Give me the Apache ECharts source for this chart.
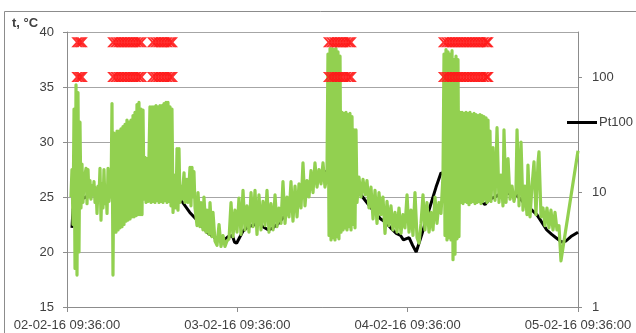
<!DOCTYPE html>
<html>
<head>
<meta charset="utf-8">
<script src="https://cdn.jsdelivr.net/npm/echarts@6/dist/echarts.min.js"></script>
<style>
  html, body { margin: 0; padding: 0; background: #fff; }
  #chart { width: 636px; height: 333px; }
</style>
</head>
<body>
<div id="chart"></div>
<script>
// Logging window: 02-02-16 09:36:00 + 72 h. Times are hours from the start.
const START_UTC = Date.UTC(2016, 1, 2, 9, 36, 0);
const dayTicks = [0, 24, 48, 72];

// Pt100 reference probe, °C
const ptHours = [0.70, 0.85, 1.3, 2.0, 3.0, 3.5, 4.5, 5.3, 5.8, 7.0, 8.5, 10.0, 11.0, 12.0, 13.0, 14.0, 14.9,
  16.3, 17.3, 18.3, 19.2, 19.9, 20.6, 21.3, 22.0, 22.7, 23.3, 23.6, 23.9, 24.3, 24.8, 25.5, 26.5, 27.0, 27.6,
  28.4, 29.0, 29.8, 30.8, 31.5, 32.3, 33.2, 34.1, 35.1, 36.0, 37.0, 38.0, 39.0, 40.0, 41.0, 41.4, 42.5, 43.5,
  44.2, 44.9, 45.6, 46.4, 47.0, 47.4, 48.2, 48.7, 49.2, 50.0, 51.0, 52.0, 52.7, 53.5, 55.0, 57.0, 58.9, 59.5,
  60.3, 61.3, 62.5, 63.3, 64.5, 65.5, 66.2, 67.0, 67.6, 68.3, 68.9, 69.7, 70.3, 71.0, 72.0];
const ptTemps = [22.2, 23.9, 24.3, 24.8, 25.1, 25.2, 25.2, 24.8, 25.0, 25.4, 25.8, 26.3, 26.8, 27.0, 27.1, 26.9, 25.8,
  24.5, 23.6, 22.9, 22.2, 21.7, 21.4, 21.1, 21.0, 21.4, 21.5, 20.9, 20.8, 21.3, 21.9, 22.3, 22.5, 22.7, 22.3,
  22.0, 22.2, 22.6, 23.4, 23.8, 24.5, 25.0, 25.5, 26.8, 27.2, 27.4, 27.5, 27.0, 26.4, 25.6, 25.2, 24.3, 23.5,
  23.0, 22.7, 22.2, 21.7, 21.5, 21.1, 21.3, 20.6, 20.0, 21.6, 23.8, 25.9, 27.2, 27.0, 26.5, 25.5, 24.3, 24.8,
  25.0, 25.4, 25.3, 25.2, 24.4, 23.8, 23.4, 22.6, 22.0, 21.6, 21.3, 20.9, 21.0, 21.4, 21.8];

// Second sensor, °C (fast, noisy readings)
const sensorHours = [
  0.56, 0.70, 0.85, 0.99, 1.13, 1.27, 1.41, 1.55, 1.69, 1.83, 1.97, 2.11, 2.25, 2.40,
  2.68, 2.82, 2.96, 3.10, 3.24, 3.38, 3.52, 3.66, 3.80, 3.95, 4.09, 4.23, 4.37, 4.51, 4.65, 4.79, 4.93, 5.07,
  5.21, 5.35, 5.50, 5.64, 5.78, 5.92, 6.06, 6.20, 6.34, 6.48, 6.62,
  6.76, 6.90, 7.05, 7.19, 7.33, 7.47, 7.61, 7.75, 7.89, 8.03, 8.17, 8.31, 8.45, 8.59, 8.74, 8.88, 9.02, 9.16,
  9.30, 9.44, 9.58, 9.72, 9.86, 10.00, 10.14, 10.29, 10.43, 10.57, 10.71,
  10.85, 10.99, 11.13, 11.27, 11.41, 11.55,
  11.69, 11.84, 11.98, 12.12, 12.26, 12.40, 12.54, 12.68, 12.82, 12.96, 13.10, 13.24, 13.39, 13.53, 13.67,
  13.81, 13.95, 14.09, 14.23, 14.37, 14.51, 14.65, 14.79, 14.94,
  15.22, 15.36, 15.50, 15.64, 15.78, 15.92, 16.06, 16.20, 16.49, 16.63, 16.91, 17.05, 17.33, 17.47, 17.61,
  17.75, 17.89, 18.04,
  18.32, 18.46, 18.74, 18.88, 19.16, 19.30, 19.59, 19.73, 20.01, 20.15, 20.43, 20.57, 20.85, 21.14, 21.42,
  21.70, 21.98, 22.26, 22.54, 22.83,
  23.11, 23.39, 23.67, 23.95, 24.23, 24.52, 24.80, 25.08, 25.36, 25.64, 25.93, 26.21, 26.49, 26.77, 27.05,
  27.33, 27.62, 27.90, 28.18, 28.46, 28.74, 29.03, 29.31, 29.59, 29.87, 30.15, 30.43, 30.72, 31.00, 31.28,
  31.56, 31.84, 32.13, 32.41, 32.69, 32.97, 33.25, 33.53, 33.82, 34.10, 34.38, 34.66, 34.94, 35.23, 35.51,
  35.79, 36.07, 36.35, 36.63,
  36.77, 36.92, 37.06, 37.20, 37.34, 37.48, 37.62, 37.76, 37.90, 38.04, 38.18, 38.32, 38.47, 38.61,
  38.75, 38.89, 39.03, 39.17, 39.31, 39.45, 39.59, 39.73, 39.87, 40.02, 40.16, 40.30, 40.44, 40.58, 40.72, 40.86,
  41.14, 41.42, 41.71, 41.99, 42.27, 42.55, 42.83, 43.12, 43.40, 43.68, 43.96, 44.24, 44.52, 44.81, 45.09,
  45.37, 45.65, 45.93, 46.22, 46.50, 46.78, 47.06, 47.34, 47.62, 47.91, 48.19, 48.47, 48.75, 49.03, 49.32,
  49.60, 49.88, 50.16, 50.44, 50.72, 51.01, 51.29, 51.57, 51.85, 52.13, 52.41, 52.70,
  52.98, 53.12, 53.26, 53.40, 53.54, 53.68, 53.82, 53.96, 54.11, 54.25, 54.39, 54.53, 54.67, 54.81, 54.95,
  55.09, 55.23,
  55.37, 55.51, 55.66, 55.80, 55.94, 56.08, 56.22, 56.36, 56.50, 56.64, 56.78, 56.92, 57.06, 57.21, 57.35,
  57.49, 57.63, 57.77, 57.91, 58.05, 58.19, 58.33, 58.47, 58.61, 58.75, 58.90, 59.04, 59.18, 59.32, 59.46, 59.60,
  59.74, 60.02, 60.31, 60.59, 60.87, 61.15, 61.43, 61.57, 61.86, 62.14, 62.42, 62.70, 62.98, 63.26, 63.41,
  63.69, 63.97, 64.25, 64.53, 64.81, 64.95, 65.24, 65.52, 65.80, 66.08, 66.36, 66.50, 66.79, 67.07, 67.35,
  67.63, 67.91, 68.19, 68.48, 68.76, 69.04, 69.32, 69.60, 69.75, 72.00];
const sensorTemps = [
  25.0, 27.5, 22.5, 33.0, 18.5, 35.2, 17.9, 34.5, 20.0, 31.8, 24.0, 28.0, 24.5, 26.5,
  27.6, 24.4, 27.5, 25.0, 26.5, 24.8, 26.0, 25.2, 26.4, 24.5, 25.8, 23.5, 26.0, 25.0, 27.6, 22.9, 26.2, 24.0,
  27.5, 24.4, 26.0, 23.5, 27.6, 24.6, 26.0, 25.0, 33.5, 17.9, 30.8,
  30.8, 21.8, 31.0, 22.0, 31.0, 22.2, 31.2, 22.3, 31.4, 22.5, 31.6, 22.8, 32.0, 22.9, 31.8, 23.0, 32.0, 23.2,
  32.4, 23.2, 32.7, 23.3, 33.4, 23.4, 33.6, 23.4, 33.0, 23.4, 32.9,
  24.8, 28.6, 24.5, 28.5, 24.6, 28.6,
  33.2, 24.5, 33.2, 24.6, 33.2, 24.5, 33.3, 24.7, 33.2, 24.5, 33.3, 24.6, 33.3, 24.5, 33.5,
  24.7, 33.6, 24.5, 33.6, 24.6, 33.2, 24.2, 33.0, 23.6,
  27.0, 24.0, 29.4, 23.8, 29.4, 24.5, 26.0, 24.8, 27.2, 24.5, 26.6, 24.5, 27.7, 24.2, 27.7,
  25.0, 27.3, 24.0,
  22.4, 25.4, 22.3, 24.5, 22.0, 25.0, 21.8, 23.8, 21.6, 24.5, 21.4, 23.6, 21.0, 20.6, 22.5,
  20.5, 21.5, 20.5, 21.0, 21.2,
  24.5, 21.4, 23.8, 21.8, 24.9, 21.6, 25.6, 22.0, 24.2, 21.8, 25.4, 22.3, 25.6, 21.6, 25.2,
  22.0, 24.6, 22.4, 25.6, 21.8, 24.4, 22.0, 25.2, 22.3, 24.0, 22.6, 26.4, 22.6, 25.0, 23.2,
  26.4, 22.8, 26.0, 23.2, 26.2, 24.0, 28.1, 24.2, 26.5, 25.0, 27.4, 25.4, 28.1, 25.9, 27.5,
  26.2, 28.1, 25.9, 27.0,
  38.0, 21.5, 38.5, 21.1, 38.5, 21.3, 38.4, 21.1, 38.5, 21.4, 38.2, 21.2, 37.8, 21.8,
  32.7, 22.0, 32.6, 22.2, 32.7, 22.0, 32.5, 22.3, 32.6, 22.0, 32.3, 22.5, 31.1, 22.2, 31.1, 24.5,
  26.8, 25.0, 26.6, 25.2, 26.5, 24.0, 25.9, 23.0, 25.6, 22.6, 25.4, 23.4, 25.0, 21.7, 24.6,
  22.4, 24.2, 22.0, 23.6, 21.8, 24.0, 21.7, 23.4, 22.2, 25.2, 21.8, 23.8, 21.5, 25.4, 21.3,
  20.8, 22.6, 25.2, 22.0, 24.5, 21.8, 23.6, 22.0, 25.0, 22.6, 24.5, 23.5,
  27.0, 38.0, 21.5, 38.4, 21.1, 38.2, 21.3, 38.0, 21.1, 38.3, 19.3, 37.5, 19.8, 37.8, 21.2,
  37.5, 21.4,
  32.7, 24.5, 32.7, 24.4, 32.6, 24.6, 32.7, 24.5, 32.6, 24.3, 32.7, 24.5, 32.5, 24.6, 32.6,
  24.4, 32.5, 24.5, 32.4, 24.6, 32.5, 24.4, 32.4, 24.6, 32.3, 24.8, 32.2, 24.5, 32.0, 24.7, 31.0,
  24.6, 29.5, 24.7, 31.3, 24.5, 27.0, 24.2, 31.1, 24.5, 28.5, 24.8, 26.0, 24.6, 25.5, 31.1,
  24.2, 30.0, 23.8, 26.0, 23.4, 27.9, 23.2, 26.0, 28.2, 23.4, 28.1, 29.1, 23.2, 24.0, 22.4,
  24.0, 22.2, 23.8, 22.0, 23.6, 22.0, 22.4, 19.2, 19.3, 29.2];

// Alarm events (secondary, logarithmic axis): two flag levels
const alarmHours = [1.45, 1.8, 2.1,
  6.5, 6.9, 7.3, 7.7, 8.1, 8.5, 8.9, 9.3, 9.7, 10.1, 10.45,
  12.1, 12.5, 12.9, 13.3, 13.7, 14.1, 14.5, 14.8,
  36.9, 37.3, 37.7, 38.1, 38.5, 38.9, 39.3, 39.7, 40.0,
  53.1, 53.5, 53.9, 54.3, 54.7, 55.1, 55.5, 55.9, 56.3, 56.7, 57.1, 57.5, 57.9, 58.3, 58.7, 59.1, 59.3];
const alarmLevels = [100, 200];

const leftTicks = [15, 20, 25, 30, 35, 40];
const rightTicks = [1, 10, 100];

function pad(n) { return String(n).padStart(2, '0'); }
function fmtTime(h) {
  const d = new Date(START_UTC + h * 3600000);
  return pad(d.getUTCDate()) + '-' + pad(d.getUTCMonth() + 1) + '-' + pad(d.getUTCFullYear() % 100) + ' ' +
    pad(d.getUTCHours()) + ':' + pad(d.getUTCMinutes()) + ':' + pad(d.getUTCSeconds());
}

const zip = (xs, ys) => xs.map((x, i) => [x, ys[i]]);
const alarmData = [];
alarmLevels.forEach(lv => alarmHours.forEach(h => alarmData.push([h, lv])));

const FONT = 'Liberation Sans';
const TEXT = '#404040';
const AXIS = '#8c8c8c';
const XMARK = 'path://M0,0 L2.2,0 L5,3.6 L7.8,0 L10,0 L6.2,5 L10,10 L7.8,10 L5,6.4 L2.2,10 L0,10 L3.8,5 Z';

const chart = echarts.init(document.getElementById('chart'), null, { renderer: 'canvas' });
chart.setOption({
  animation: false,
  backgroundColor: '#ffffff',
  textStyle: { fontFamily: FONT },
  grid: { left: 67, right: 58, top: 32, bottom: 26, containLabel: false },
  legend: {
    data: [{ name: 'Pt100', icon: 'rect' }],
    left: 567, top: 116, padding: 0,
    itemWidth: 30, itemHeight: 3, itemGap: 0,
    textStyle: { fontFamily: FONT, fontSize: 13, color: TEXT, padding: [0, 0, 0, -3] },
    selectedMode: false
  },
  graphic: [
    { type: 'rect', shape: { x: 4.5, y: 11.5, width: 700, height: 400 },
      style: { fill: 'none', stroke: '#8c8c8c', lineWidth: 1 }, silent: true, z: -1 },
    { type: 'text', left: 12, top: 17,
      style: { text: 't, °C', font: 'bold 13px "Liberation Sans"', fill: TEXT } }
  ],
  xAxis: {
    type: 'value', min: 0, max: 72, interval: 24,
    axisLine: { lineStyle: { color: AXIS, width: 1 } },
    axisTick: { show: true, length: 5, lineStyle: { color: AXIS } },
    splitLine: { show: false },
    axisLabel: { margin: 12, fontSize: 13, color: TEXT, fontFamily: FONT, formatter: v => fmtTime(v),
      showMinLabel: true, showMaxLabel: true }
  },
  yAxis: [
    {
      type: 'value', min: leftTicks[0], max: leftTicks[leftTicks.length - 1], interval: 5,
      axisLine: { show: true, lineStyle: { color: AXIS } },
      axisTick: { show: true, length: 4, lineStyle: { color: AXIS } },
      splitLine: { show: true, lineStyle: { color: '#a6a6a6', width: 1 } },
      axisLabel: { margin: 13, fontSize: 13, color: TEXT, fontFamily: FONT }
    },
    {
      type: 'log', logBase: 10, min: 1, max: 246, position: 'right',
      axisLine: { show: true, lineStyle: { color: AXIS } },
      axisTick: { show: true, length: 4, lineStyle: { color: AXIS }, customValues: rightTicks },
      splitLine: { show: false },
      minorTick: { show: false },
      axisLabel: { margin: 14, fontSize: 13, color: TEXT, fontFamily: FONT, customValues: rightTicks }
    }
  ],
  series: [
    {
      name: 'Pt100', type: 'line', yAxisIndex: 0, data: zip(ptHours, ptTemps),
      showSymbol: false, lineStyle: { color: '#000000', width: 3 }, itemStyle: { color: '#000000' }, z: 2
    },
    {
      name: 'Sensor', type: 'line', yAxisIndex: 0, data: zip(sensorHours, sensorTemps),
      showSymbol: false, lineStyle: { color: '#92d050', width: 3.2, join: 'round' }, itemStyle: { color: '#92d050' }, z: 3
    },
    {
      name: 'Alarm', type: 'scatter', yAxisIndex: 1, data: alarmData,
      symbol: XMARK, symbolSize: [12, 10],
      itemStyle: { color: '#ff1a1a', opacity: 0.9 }, z: 4
    }
  ]
});
</script>
</body>
</html>
